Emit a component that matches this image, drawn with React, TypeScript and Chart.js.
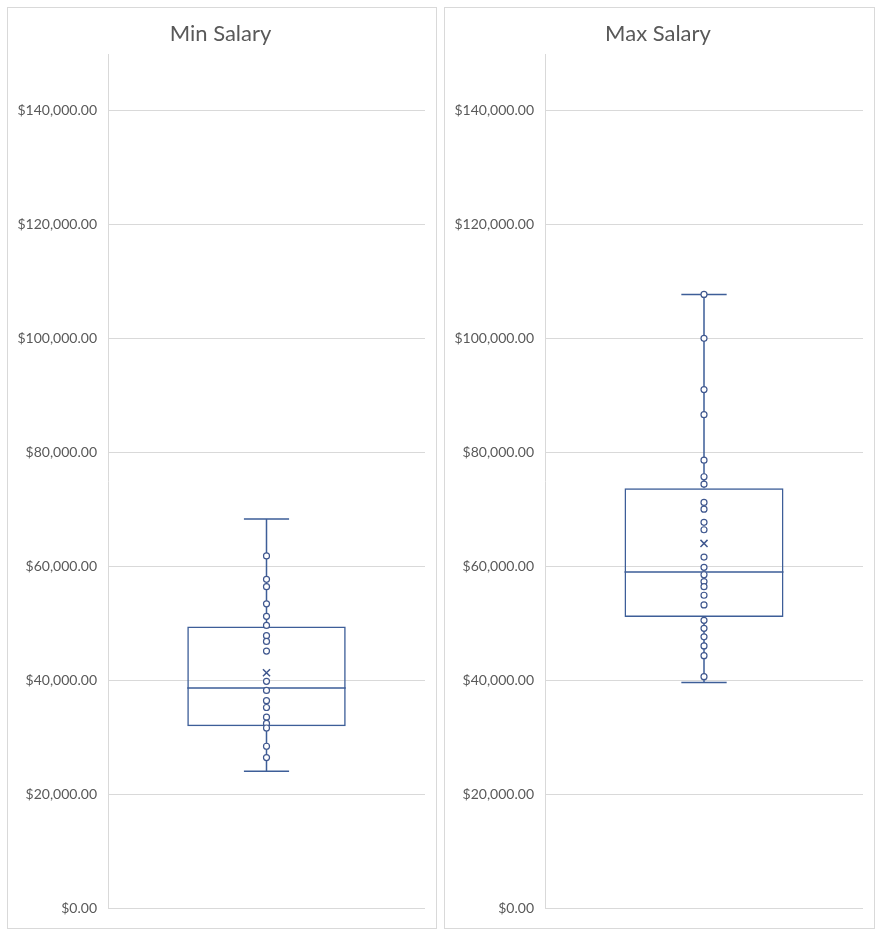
import React, { useEffect, useRef } from "react";
import { Chart, registerables } from "chart.js";

Chart.register(...registerables);

// Min Salary: individual salaries, whisker/box stats [min, q1, median, q3, max] and mean
const minSalaryPoints = [
  61900, 57800, 56500, 53500, 51300, 49700, 47900, 46900, 45200, 39900,
  38300, 36500, 35300, 33600, 32500, 31700, 28500, 26500,
];
const minSalaryBox = [24100, 32000, 38700, 49500, 68400];
const minSalaryMean = 41400;

// Max Salary
const maxSalaryPoints = [
  107800, 100100, 91100, 86700, 78700, 75800, 74500, 71300, 70100, 67800,
  66500, 61700, 59900, 58600, 57400, 56500, 55000, 53300, 50600, 49200,
  47700, 46100, 44400, 40700,
];
const maxSalaryBox = [39700, 51200, 59100, 73800, 107800];
const maxSalaryMean = 64100;

// Value axis
const axisMax = 150000;
const yTickValues = [0, 20000, 40000, 60000, 80000, 100000, 120000, 140000];

const LINE_BLUE = "#3d5e98";
const POINT_BLUE = "#40588f";
const GRID = "#d9d9d9";
const TEXT = "#595959";
const FONT = "Lato, 'Open Sans', sans-serif";

const money = (v: number) =>
  "$" +
  v.toLocaleString("en-US", { minimumFractionDigits: 2, maximumFractionDigits: 2 });

// Draws whiskers, caps and the median line of a box-and-whisker series,
// positioned from the floating bar that forms the box.
const boxWhiskerPlugin = {
  id: "boxWhiskers",
  beforeDatasetsDraw(chart: any, _args: any, opts: any) {
    const meta = chart.getDatasetMeta(opts.barIndex);
    const bar = meta.data[0];
    if (!bar) return;
    const ys = chart.scales.y;
    const [mn, q1, md, q3, mx] = opts.box as number[];
    const cx = bar.x;
    const half = bar.width / 2;
    const capHalf = half * 0.285;
    const ctx = chart.ctx;
    ctx.save();
    ctx.strokeStyle = LINE_BLUE;
    ctx.lineWidth = 1.5;
    ctx.beginPath();
    ctx.moveTo(cx, ys.getPixelForValue(mn));
    ctx.lineTo(cx, ys.getPixelForValue(q1));
    ctx.moveTo(cx, ys.getPixelForValue(q3));
    ctx.lineTo(cx, ys.getPixelForValue(mx));
    ctx.moveTo(cx - capHalf, ys.getPixelForValue(mn));
    ctx.lineTo(cx + capHalf, ys.getPixelForValue(mn));
    ctx.moveTo(cx - capHalf, ys.getPixelForValue(mx));
    ctx.lineTo(cx + capHalf, ys.getPixelForValue(mx));
    ctx.moveTo(cx - half, ys.getPixelForValue(md));
    ctx.lineTo(cx + half, ys.getPixelForValue(md));
    ctx.stroke();
    ctx.restore();
  },
};

type PanelProps = {
  title: string;
  left: number;
  width: number;
  points: number[];
  box: number[];
  mean: number;
};

function BoxPanel({ title, left, width, points, box, mean }: PanelProps) {
  const ref = useRef<HTMLCanvasElement | null>(null);

  useEffect(() => {
    if (!ref.current) return;
    const chart = new Chart(ref.current, {
      type: "bar",
      data: {
        labels: [title],
        datasets: [
          {
            type: "line",
            label: "Mean",
            data: [{ x: title, y: mean }] as any,
            showLine: false,
            pointStyle: "crossRot",
            pointRadius: 5,
            pointBorderWidth: 1.5,
            borderColor: POINT_BLUE,
            backgroundColor: POINT_BLUE,
            order: 0,
          } as any,
          {
            type: "line",
            label: "Salaries",
            data: points.map((v) => ({ x: title, y: v })) as any,
            showLine: false,
            pointStyle: "circle",
            pointRadius: 3,
            pointBorderWidth: 1.2,
            borderColor: POINT_BLUE,
            backgroundColor: "#ffffff",
            order: 1,
          } as any,
          {
            type: "bar",
            label: "Quartiles",
            data: [[box[1], box[3]]] as any,
            backgroundColor: "rgba(255,255,255,0)",
            borderColor: LINE_BLUE,
            borderWidth: 1.5,
            borderSkipped: false,
            barPercentage: 0.5,
            categoryPercentage: 1,
            order: 2,
          } as any,
        ],
      },
      options: {
        responsive: false,
        animation: false,
        layout: { padding: { left: 8, right: 11, top: 0, bottom: 17 } },
        plugins: {
          legend: { display: false },
          tooltip: { enabled: false },
          title: {
            display: true,
            text: title,
            color: TEXT,
            font: { family: FONT, size: 22, weight: "normal" },
            padding: { top: 13, bottom: 6.6 },
          },
          boxWhiskers: { box, barIndex: 2 },
        } as any,
        scales: {
          x: { display: false },
          y: {
            min: 0,
            max: axisMax,
            afterBuildTicks: (axis: any) => {
              axis.ticks = yTickValues.map((v) => ({ value: v }));
            },
            afterFit: (scale: any) => {
              scale.width = 92;
            },
            ticks: {
              padding: 11,
              color: TEXT,
              font: { family: FONT, size: 14 },
              callback: (v: any) => money(Number(v)),
            },
            grid: { color: GRID, drawTicks: false, lineWidth: 1 },
            border: { display: true, color: GRID },
          },
        },
      },
      plugins: [boxWhiskerPlugin],
    });
    return () => chart.destroy();
  }, [title, points, box, mean]);

  return (
    <div
      style={{
        position: "absolute",
        left,
        top: 7,
        width,
        height: 922,
        border: `1px solid ${GRID}`,
        boxSizing: "border-box",
        background: "#fff",
      }}
    >
      <canvas ref={ref} width={width - 2} height={920} style={{ display: "block" }} />
    </div>
  );
}

export default function App() {
  useEffect(() => {
    document.body.style.margin = "0";
  }, []);
  return (
    <div style={{ position: "relative", width: 875, height: 932, background: "#fff" }}>
      <BoxPanel
        title="Min Salary"
        left={7}
        width={430}
        points={minSalaryPoints}
        box={minSalaryBox}
        mean={minSalaryMean}
      />
      <BoxPanel
        title="Max Salary"
        left={444}
        width={431}
        points={maxSalaryPoints}
        box={maxSalaryBox}
        mean={maxSalaryMean}
      />
    </div>
  );
}
